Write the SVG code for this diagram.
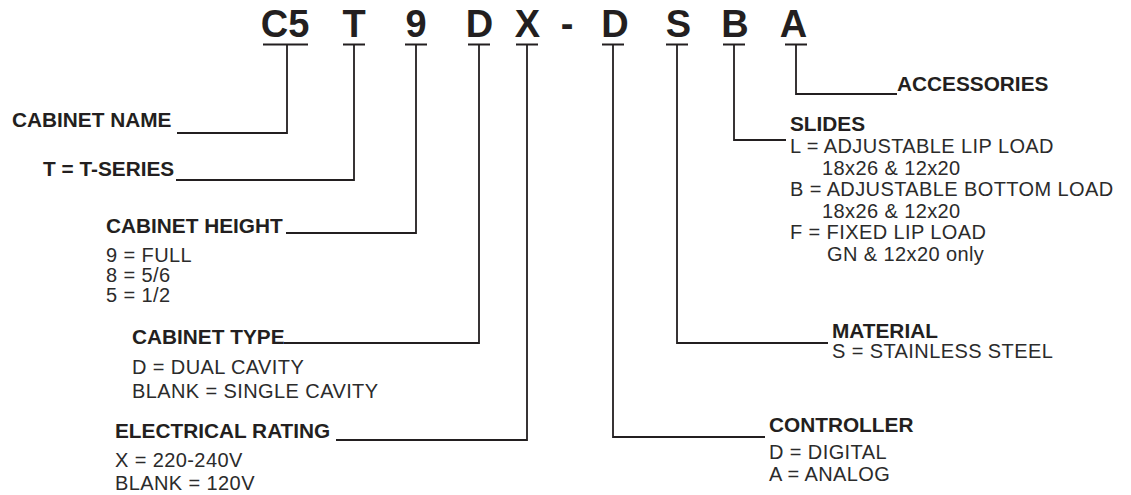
<svg xmlns="http://www.w3.org/2000/svg" width="1131" height="495" viewBox="0 0 1131 495">
<style>
.code{font-family:"Liberation Sans",Arial,sans-serif;font-weight:bold;font-size:38px;fill:#231f20;text-anchor:middle}
.hd{font-family:"Liberation Sans",Arial,sans-serif;font-weight:bold;font-size:20.8px;fill:#231f20}
.tx{font-family:"Liberation Sans",Arial,sans-serif;font-size:20px;letter-spacing:0.4px;fill:#2b2b2b}
.ln{fill:none;stroke:#231f20;stroke-width:1.8}
</style>
<rect width="1131" height="495" fill="#fff"/>
<g id="code">
<text class="code" x="285" y="36.5">C5</text>
<text class="code" x="354" y="36.5">T</text>
<text class="code" x="416" y="36.5">9</text>
<text class="code" x="479.5" y="36.5">D</text>
<text class="code" x="527.5" y="36.5">X</text>
<text class="code" x="567" y="36.5">-</text>
<text class="code" x="615" y="36.5">D</text>
<text class="code" x="678.5" y="36.5">S</text>
<text class="code" x="735" y="36.5">B</text>
<text class="code" x="793.5" y="36.5">A</text>
</g>
<g id="connectors">
<path class="ln" d="M263,44.5H308M343,44.5H365M405,44.5H427M468,44.5H490M516,44.5H538M602,44.5H624M666,44.5H688M723,44.5H745M785,44.5H807"/>
<path class="ln" d="M177,133H287V44.5"/>
<path class="ln" d="M176,180H354V44.5"/>
<path class="ln" d="M286,233H416V44.5"/>
<path class="ln" d="M284,343H479V44.5"/>
<path class="ln" d="M336,440H527V44.5"/>
<path class="ln" d="M765,437H613V44.5"/>
<path class="ln" d="M828,343H677V44.5"/>
<path class="ln" d="M786,140H734V44.5"/>
<path class="ln" d="M897,94H796V44.5"/>
</g>
<g id="cabinet-name"><text class="hd" x="12" y="127">CABINET NAME</text></g>
<g id="t-series"><text class="hd" x="43" y="176">T = T-SERIES</text></g>
<g id="cabinet-height">
<text class="hd" x="106" y="233">CABINET HEIGHT</text>
<text class="tx" x="106" y="262">9 = FULL</text>
<text class="tx" x="106" y="282">8 = 5/6</text>
<text class="tx" x="106" y="302">5 = 1/2</text>
</g>
<g id="cabinet-type">
<text class="hd" x="132" y="344">CABINET TYPE</text>
<text class="tx" x="132" y="374">D = DUAL CAVITY</text>
<text class="tx" x="132" y="398">BLANK = SINGLE CAVITY</text>
</g>
<g id="electrical-rating">
<text class="hd" x="115" y="438">ELECTRICAL RATING</text>
<text class="tx" x="115" y="467">X = 220-240V</text>
<text class="tx" x="115" y="490">BLANK = 120V</text>
</g>
<g id="controller">
<text class="hd" x="769" y="432">CONTROLLER</text>
<text class="tx" x="769" y="459">D = DIGITAL</text>
<text class="tx" x="769" y="481">A = ANALOG</text>
</g>
<g id="material">
<text class="hd" x="832" y="338">MATERIAL</text>
<text class="tx" x="832" y="358">S = STAINLESS STEEL</text>
</g>
<g id="slides">
<text class="hd" x="790" y="131">SLIDES</text>
<text class="tx" x="790" y="153">L = ADJUSTABLE LIP LOAD</text>
<text class="tx" x="822" y="174.5">18x26 &amp; 12x20</text>
<text class="tx" x="790" y="196">B = ADJUSTABLE BOTTOM LOAD</text>
<text class="tx" x="822" y="217.5">18x26 &amp; 12x20</text>
<text class="tx" x="790" y="239">F = FIXED LIP LOAD</text>
<text class="tx" x="827" y="260.5">GN &amp; 12x20 only</text>
</g>
<g id="accessories"><text class="hd" x="897" y="91">ACCESSORIES</text></g>
</svg>
